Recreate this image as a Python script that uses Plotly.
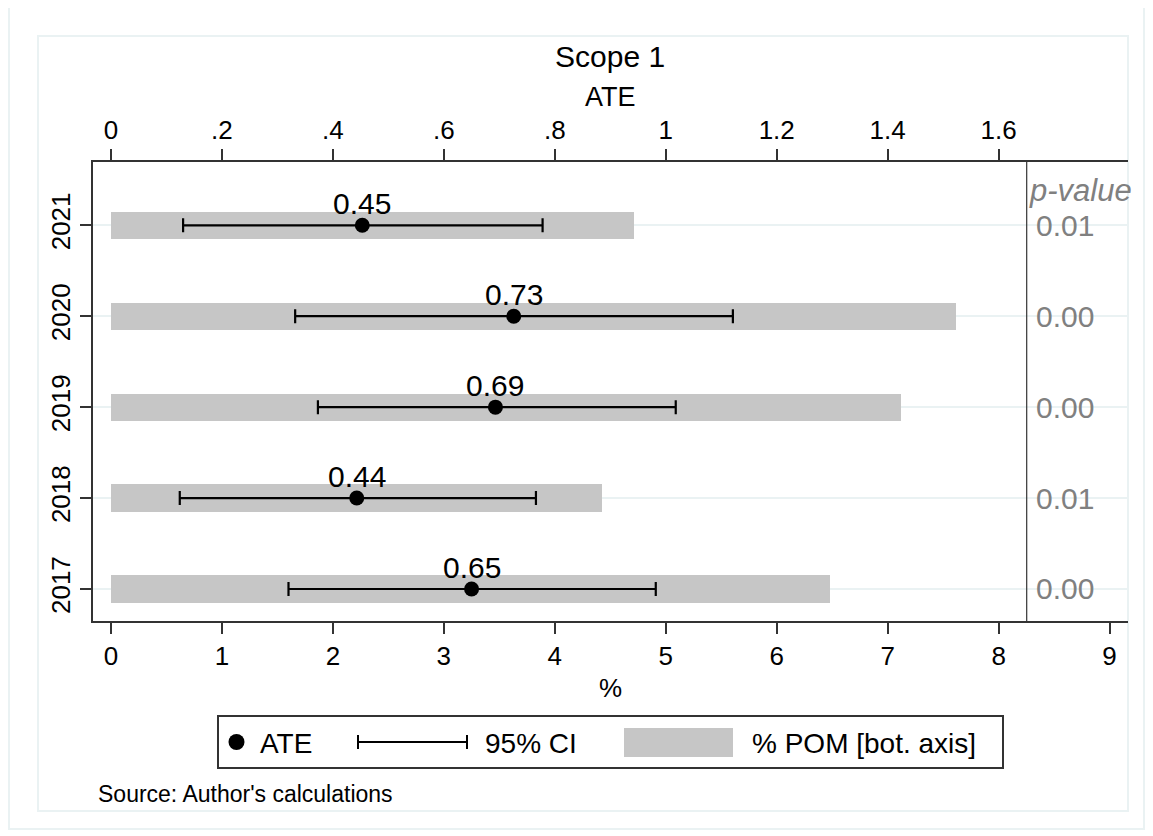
import plotly.graph_objects as go

# ---- data ----
years = ["2017", "2018", "2019", "2020", "2021"]
ate = [0.650, 0.443, 0.693, 0.726, 0.453]
ci_lo = [0.320, 0.124, 0.373, 0.332, 0.130]
ci_hi = [0.982, 0.766, 1.018, 1.121, 0.778]
pom = [6.48, 4.425, 7.12, 7.613, 4.714]
pvals = ["0.00", "0.01", "0.00", "0.00", "0.01"]
bottom_ticks = [0, 1, 2, 3, 4, 5, 6, 7, 8, 9]
top_ticks = [0, 0.2, 0.4, 0.6, 0.8, 1.0, 1.2, 1.4, 1.6]
top_ticktext = ["0", ".2", ".4", ".6", ".8", "1", "1.2", "1.4", "1.6"]

pos = list(range(1, len(years) + 1))
FONT = "Liberation Sans, Arial, sans-serif"
W, H = 1153, 836
OFF = 8  # page body margin
# plot-area edges in page pixels
PL, PR, PT, PB = 93, 1128, 162, 621
L, R, T, B = PL - OFF, PR - OFF, PT - OFF, PB - OFF
AX = "#333333"
GRID = "#EAF2F3"


def px_x(px):
    return (px - PL) / (PR - PL)


def px_y(py):
    return (PB - py) / (PB - PT)


xr = [-0.162, 9.166]
xr2 = [v / 5 for v in xr]
yr = [0.648, 5.696]

fig = go.Figure()
fig.add_trace(go.Bar(
    x=pom, y=pos, orientation="h", width=0.30, base=0,
    marker=dict(color="#C6C6C6", line=dict(width=0)),
    xaxis="x", yaxis="y", showlegend=False, hoverinfo="skip"))
fig.add_trace(go.Scatter(
    x=ate, y=pos, xaxis="x2", yaxis="y", mode="markers",
    marker=dict(color="black", size=15),
    error_x=dict(type="data", symmetric=False,
                 array=[h - a for h, a in zip(ci_hi, ate)],
                 arrayminus=[a - l for a, l in zip(ate, ci_lo)],
                 color="black", thickness=2.2, width=7),
    showlegend=False, cliponaxis=False))

shapes = []
# outer/inner frames
shapes.append(dict(type="rect", xref="paper", yref="paper",
                   x0=px_x(9), x1=px_x(1144), y0=px_y(829), y1=px_y(7),
                   line=dict(color=GRID, width=2), layer="below"))
shapes.append(dict(type="rect", xref="paper", yref="paper",
                   x0=px_x(38), x1=px_x(1128), y0=px_y(811), y1=px_y(36),
                   line=dict(color=GRID, width=2), layer="below"))
# vertical separator
shapes.append(dict(type="line", xref="x", yref="paper", x0=8.253, x1=8.253,
                   y0=0, y1=1, line=dict(color=AX, width=1.2)))
# legend
shapes.append(dict(type="rect", xref="paper", yref="paper",
                   x0=px_x(218), x1=px_x(1003), y0=px_y(768), y1=px_y(716),
                   line=dict(color=AX, width=2), fillcolor="white"))
shapes.append(dict(type="circle", xref="paper", yref="paper",
                   x0=px_x(228.5), x1=px_x(244.5), y0=px_y(750), y1=px_y(734),
                   line=dict(width=0), fillcolor="black"))
shapes.append(dict(type="line", xref="paper", yref="paper",
                   x0=px_x(358), x1=px_x(467), y0=px_y(742), y1=px_y(742),
                   line=dict(color="black", width=2)))
for cx in (358, 467):
    shapes.append(dict(type="line", xref="paper", yref="paper",
                       x0=px_x(cx), x1=px_x(cx), y0=px_y(735), y1=px_y(749),
                       line=dict(color="black", width=2)))
shapes.append(dict(type="rect", xref="paper", yref="paper",
                   x0=px_x(624), x1=px_x(733), y0=px_y(757), y1=px_y(728),
                   line=dict(width=0), fillcolor="#C6C6C6"))

ann = []


def add_text(text, px, py, size, xanchor="center", color="black", italic=False):
    t = f"<i>{text}</i>" if italic else text
    ann.append(dict(text=t, xref="paper", yref="paper", x=px_x(px), y=px_y(py),
                    xanchor=xanchor, yanchor="middle", showarrow=False,
                    font=dict(family=FONT, size=size, color=color)))


add_text("Scope 1", 610, 56, 30)
add_text("ATE", 610, 97, 27)
add_text("%", 610, 688, 26)
add_text("ATE", 258, 743, 28, xanchor="left")
add_text("95% CI", 483, 743, 28, xanchor="left")
add_text("% POM [bot. axis]", 750, 743, 28, xanchor="left")
add_text("Source: Author's calculations", 96, 794, 23, xanchor="left")
add_text("p-value", 1027, 191, 31, xanchor="left", color="#808080", italic=True)

# value labels above the ATE markers
for a, p in zip(ate, pos):
    ann.append(dict(text=f"{a:.2f}", xref="x2", yref="y", x=a, y=p,
                    xanchor="center", yanchor="bottom", yshift=3,
                    showarrow=False,
                    font=dict(family=FONT, size=30, color="black")))

for p, pv in zip(pos, pvals):
    ann.append(dict(text=pv, xref="paper", yref="y", x=px_x(1034), y=p,
                    xanchor="left", yanchor="middle", showarrow=False,
                    font=dict(family=FONT, size=30, color="#808080")))

fig.update_layout(
    width=W, height=H,
    margin=dict(l=L, r=W - R, t=T, b=H - B),
    paper_bgcolor="white", plot_bgcolor="white",
    font=dict(family=FONT, color="black"),
    shapes=shapes, annotations=ann,
    xaxis=dict(range=xr, tickvals=bottom_ticks, showgrid=False, zeroline=False,
               showline=True, linecolor=AX, linewidth=2,
               ticks="outside", ticklen=11, tickwidth=2, tickcolor=AX,
               tickfont=dict(family=FONT, size=26, color="black")),
    xaxis2=dict(range=xr2, tickvals=top_ticks, ticktext=top_ticktext,
                overlaying="x", side="top", showgrid=False, zeroline=False,
                showline=True, linecolor=AX, linewidth=2,
                ticks="outside", ticklen=11, tickwidth=2, tickcolor=AX,
                tickfont=dict(family=FONT, size=26, color="black")),
    yaxis=dict(range=yr, tickvals=pos, ticktext=years, tickangle=-90,
               showgrid=True, gridcolor=GRID, gridwidth=2, zeroline=False,
               showline=True, linecolor=AX, linewidth=2,
               ticks="outside", ticklen=11, tickwidth=2, tickcolor=AX,
               tickfont=dict(family=FONT, size=26, color="black")),
    bargap=0,
)

fig.write_html("out.html")
